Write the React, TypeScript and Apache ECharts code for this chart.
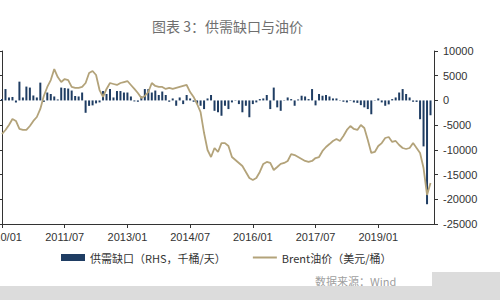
import React, { useEffect, useRef } from "react";
import * as echarts from "echarts";

const startYear = 2010;
const monthCount = 125; // 2010/01 .. 2020/05

const gapValues: (number | null)[] = [
  300, 2300, 600, 700, -400, 3800, 600, 2800, 2600, 1000, 600, 3600,
  -300, 1600, 1300, 800, 200, 2600, 2500, 2400, 2000, 900, 800, 1600,
  -2500, -1100, -1000, -600, -400, 1900, 1300, 2300, 600, 1900, 1900, 1600,
  1600, 800, -200, -270, 800, 2300, 2300, 1600, 2000, 1100, 1800, 1100,
  -270, 400, -1080, 600, -740, 1100, 400, -270, -740, -1080, -1750, 400,
  1100, -2100, -2400, -3100, -1080, -1750, -400, -70, -740, -2400, -1080, -3400,
  -740, -400, 270, 400, 1100, -1750, 2600, -1400, -2100, -70, 600, 270,
  -1080, 200, 950, 800, 270, 2300, -1000, 1300, 950, 1100, 800, 400,
  400, -70, -270, -400, -100, -400, -500, -950, -1400, -1750, -2800, -70,
  400, -400, -1080, -800, 270, 600, 1600, 2300, 1300, 600, -270, -300,
  -3800, -9300, -21000, -3000, null,
];

const brentValues: (number | null)[] = [
  72.8, 76.1, 80.1, 85.0, 83.4, 76.9, 76.1, 76.1, 79.3, 83.4, 86.6, 93.1,
  103.6, 110.9, 116.5, 125.4, 118.9, 114.9, 117.3, 116.5, 110.9, 110.1, 110.1, 110.9,
  114.1, 122.2, 123.8, 120.6, 108.4, 102.8, 109.3, 114.1, 113.3, 112.5, 114.1, 114.9,
  115.7, 112.5, 109.3, 106.0, 102.0, 103.6, 106.8, 114.1, 111.7, 110.9, 110.9, 109.3,
  110.1, 109.3, 110.1, 110.9, 111.7, 112.5, 106.8, 102.8, 97.1, 90.6, 73.6, 59.9,
  54.2, 61.5, 58.3, 65.5, 65.5, 63.1, 54.2, 51.8, 49.4, 46.9, 42.1, 37.2,
  35.6, 37.2, 42.1, 48.6, 50.2, 49.4, 43.7, 46.1, 48.6, 49.4, 51.0, 56.6,
  55.8, 54.2, 52.6, 51.0, 50.2, 51.0, 53.4, 54.2, 59.1, 62.3, 64.7, 67.2,
  68.8, 67.2, 71.2, 76.1, 79.3, 76.9, 76.1, 80.1, 77.7, 68.0, 57.5, 58.3,
  63.1, 65.5, 69.6, 70.4, 66.4, 67.2, 63.9, 61.5, 60.7, 61.5, 65.5, 61.5,
  57.5, 45.3, 23.5, 33.2, null,
];

const rightTicks = [10000, 5000, 0, -5000, -10000, -15000, -20000, -25000];

const categories: string[] = [];
for (let i = 0; i < monthCount; i++) {
  const y = startYear + Math.floor(i / 12);
  const m = (i % 12) + 1;
  categories.push(`${y}/${m < 10 ? "0" + m : m}`);
}

const BAR_NAME = "供需缺口（RHS，千桶/天）";
const LINE_NAME = "Brent油价（美元/桶）";

const LINE_ICON =
  "path://M0,0L0.01,0L0.01,0.01ZM0,2.6L24,2.6L24,4.4L0,4.4ZM23.99,6.99L24,7L23.99,7Z";

export default function App() {
  const ref = useRef<HTMLDivElement>(null);
  useEffect(() => {
    if (!ref.current) return;
    const chart = echarts.init(ref.current, undefined, { renderer: "svg" });
    const axisColor = "#333";
    chart.setOption({
      animation: false,
      backgroundColor: "#fff",
      title: {
        text: "图表 3：供需缺口与油价",
        left: 147,
        top: 14,
        textStyle: {
          fontSize: 14,
          fontWeight: "normal",
          color: "#6f6f6f",
          fontFamily: "Noto Sans CJK SC",
        },
      },
      legend: {
        left: 56,
        top: 247,
        itemWidth: 24,
        itemHeight: 7,
        itemGap: 27,
        textStyle: { fontSize: 11, color: "#333", fontFamily: "Noto Sans CJK SC" },
        data: [
          { name: BAR_NAME, icon: "rect" },
          { name: LINE_NAME, icon: LINE_ICON },
        ],
      },
      grid: { left: 2, right: 66, top: 51, bottom: 76, outerBoundsMode: "none", containLabel: false },
      xAxis: {
        type: "category",
        data: categories,
        boundaryGap: false,
        axisLine: { show: true, lineStyle: { color: axisColor, width: 1 } },
        axisTick: { show: true, interval: 17, length: 4, lineStyle: { color: axisColor } },
        axisLabel: {
          interval: 17,
          fontSize: 11,
          color: "#333",
          fontFamily: "Liberation Sans",
          margin: 7,
        },
        splitLine: { show: false },
      },
      yAxis: [
        {
          type: "value",
          position: "left",
          min: 0,
          max: 140,
          interval: 20,
          axisLine: { show: true, lineStyle: { color: axisColor, width: 1 } },
          axisTick: { show: true, length: 4, lineStyle: { color: axisColor } },
          axisLabel: { show: false },
          splitLine: { show: false },
        },
        {
          type: "value",
          position: "right",
          min: -25000,
          max: 10000,
          interval: 5000,
          axisLine: { show: true, lineStyle: { color: axisColor, width: 1 } },
          axisTick: { show: true, length: 4, lineStyle: { color: axisColor } },
          axisLabel: {
            fontSize: 11,
            color: "#333",
            fontFamily: "Liberation Sans",
            margin: 9,
            formatter: (v: number) => (rightTicks.includes(v) ? String(v) : ""),
          },
          splitLine: { show: false },
        },
      ],
      series: [
        {
          name: BAR_NAME,
          type: "bar",
          yAxisIndex: 1,
          data: gapValues,
          barWidth: 2,
          itemStyle: { color: "#1f3d63" },
          z: 2,
        },
        {
          name: LINE_NAME,
          type: "line",
          yAxisIndex: 0,
          data: brentValues,
          symbol: "none",
          showSymbol: false,
          lineStyle: { color: "#b3a37a", width: 1.8 },
          itemStyle: { color: "#b3a37a" },
          z: 3,
        },
      ],
      graphic: [
        {
          type: "text",
          left: 315,
          top: 275,
          style: {
            text: "数据来源：Wind",
            fill: "#a0a0a0",
            fontSize: 11,
            fontFamily: "Noto Sans CJK SC",
          },
          z: 1,
        },
        {
          type: "rect",
          shape: { x: 432, y: 272, width: 68, height: 14 },
          style: { fill: "#dcdcdc" },
          z: 2,
        },
        {
          type: "rect",
          shape: { x: 0, y: 286, width: 500, height: 14 },
          style: { fill: "#dcdcdc" },
          z: 2,
        },
      ],
    });
    return () => chart.dispose();
  }, []);
  return (
    <div
      ref={ref}
      style={{ position: "fixed", left: 0, top: 0, width: 500, height: 300 }}
    />
  );
}
